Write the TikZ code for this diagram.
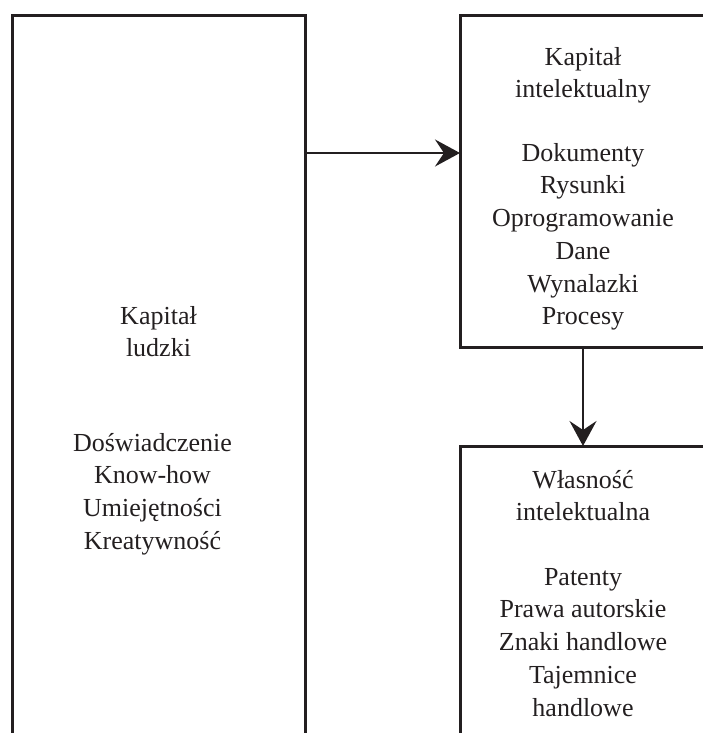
\documentclass[tikz,border=0pt]{standalone}
\usepackage{fontspec}
\setmainfont{Liberation Serif}
\usepackage{tikz}
\usetikzlibrary{positioning, arrows.meta}
\definecolor{ink}{HTML}{231F20}

\begin{document}
\begin{tikzpicture}[x=1pt, y=-1pt,
    box/.style={draw=ink, line width=3pt, rectangle, inner sep=0pt, outer sep=0pt},
    lbl/.style={align=center, inner sep=0pt, text=ink, font=\fontsize{26}{32.7}\selectfont},
    arr/.style={draw=ink, line width=2pt, -{Stealth[length=25pt, width=27pt, inset=9pt]}}]
  \useasboundingbox (0,0) rectangle (703,733);
  \clip (0,0) rectangle (703,733);

  % boxes
  \node[box, minimum width=293pt, minimum height=744pt, anchor=north west] (ludzki) at (12,16) {};
  \node[box, minimum width=246pt, minimum height=331pt,
        right=155pt of ludzki.north east, anchor=north west] (kapint) {};
  \node[box, minimum width=246pt, minimum height=334pt, below=99pt of kapint] (wlasnosc) {};

  % texts
  \node[lbl, below=290pt of ludzki.north] (ludzkiT) {Kapitał\\ludzki};
  \node[lbl, below=417pt of ludzki.north, xshift=-6pt] (ludzkiL)
        {Doświadczenie\\Know-how\\Umiejętności\\Kreatywność};
  \node[lbl, below=31pt of kapint.north] (kapintT) {Kapitał\\intelektualny};
  \node[lbl, below=127pt of kapint.north] (kapintL)
        {Dokumenty\\Rysunki\\Oprogramowanie\\Dane\\Wynalazki\\Procesy};
  \node[lbl, below=24pt of wlasnosc.north] (wlasnoscT) {Własność\\intelektualna};
  \node[lbl, below=122pt of wlasnosc.north] (wlasnoscL)
        {Patenty\\Prawa autorskie\\Znaki handlowe\\Tajemnice\\handlowe};

  % arrows
  \coordinate (link) at (0,153);
  \draw[arr] (ludzki.east |- link) -- (kapint.west |- link);
  \draw[arr] (kapint.south) -- (wlasnosc.north);
\end{tikzpicture}
\end{document}
